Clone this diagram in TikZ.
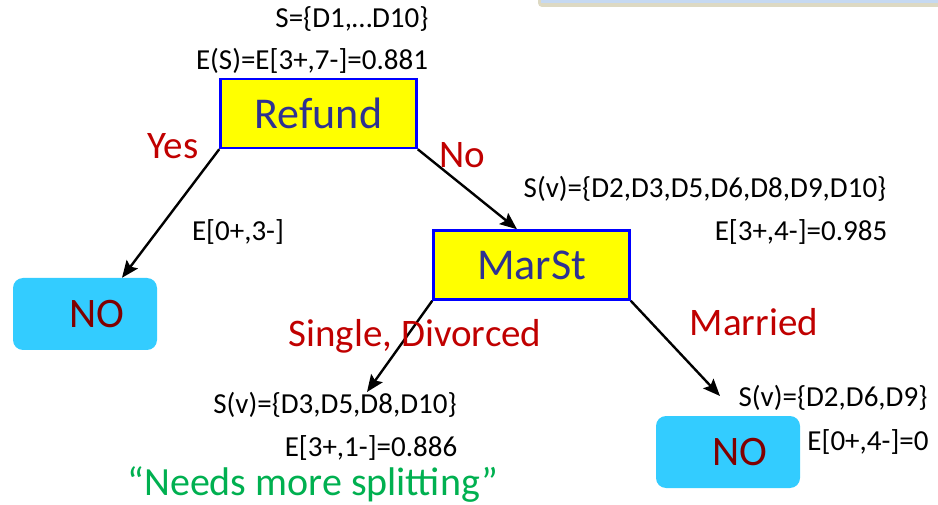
\documentclass[tikz,border=0pt]{standalone}
\usepackage{fontspec}
\setmainfont{Carlito}
\usepackage{tikz}
\usetikzlibrary{arrows.meta}
\pgfdeclarelayer{bg}
\pgfsetlayers{bg,main}

\definecolor{testfill}{HTML}{FFFF00}
\definecolor{testedge}{HTML}{0000FF}
\definecolor{testtext}{HTML}{2E3192}
\definecolor{leaffill}{HTML}{33CCFF}
\definecolor{leaftext}{HTML}{800000}
\definecolor{branchred}{HTML}{C00000}
\definecolor{notegreen}{HTML}{00B050}
\definecolor{barbeige}{HTML}{DDD9C3}
\definecolor{barblue}{HTML}{C6D9F1}

\begin{document}
\begin{tikzpicture}[x=1pt, y=-1pt,
        test/.style={draw=testedge, line width=2.5pt, fill=testfill, text=testtext,
                minimum width=196pt, minimum height=69pt, font=\fontsize{44}{50}\selectfont},
        leaf/.style={fill=leaffill, rounded corners=10pt, text=leaftext,
                minimum width=144pt, minimum height=72pt, font=\fontsize{42}{48}\selectfont},
        info/.style={inner sep=0pt, font=\fontsize{29}{33}\selectfont},
        branch/.style={inner sep=0pt, text=branchred, font=\fontsize{39}{45}\selectfont},
        split/.style={line width=2.4pt, -{Stealth[length=17pt,width=14pt,inset=3pt]}}]
        \useasboundingbox (0,0) rectangle (938,505);
        % title bar cut off at the top
        \fill [barbeige, rounded corners=4pt] (538,-20) rectangle (960,7);
        \fill [barblue] (541,-20) rectangle (960,3.5);

        \node (refund) [test] at (318.5,113.5) {Refund};
        \node (marst) [test] at (531.5,265) {MarSt};
        \node (noL) [leaf] at (85,314) {\hspace{24pt}NO};
        \node (noR) [leaf] at (728,452) {\hspace{24pt}NO};

        \node (sAll) [info] at (352,19) {S=\{D1,…D10\}};
        \node (eAll) [info] at (312,61) {E(S)=E[3+,7-]=0.881};
        \node (eYes) [info] at (238,232) {E[0+,3-]};
        \node (sNo) [info] at (705,189) {S(v)=\{D2,D3,D5,D6,D8,D9,D10\}};
        \node (eNo) [info] at (801,232) {E[3+,4-]=0.985};
        \node (sSingle) [info] at (335,405) {S(v)=\{D3,D5,D8,D10\}};
        \node (eSingle) [info] at (371,448) {E[3+,1-]=0.886};
        \node (sMarried) [info] at (833,398) {S(v)=\{D2,D6,D9\}};
        \node (eMarried) [info] at (868,442) {E[0+,4-]=0};

        \node (yes) [branch] at (173,146) {Yes};
        \node (no) [branch] at (462,155) {No};
        \node (single) [branch] at (415,336) {Single, Divorced};
        \node (married) [branch] at (754,322) {Married};
        \node (needs) [branch, text=notegreen, font=\fontsize{40}{46}\selectfont] at (313,485) {“Needs more splitting”};

        \coordinate (tipSingle) at (367,392);
        \coordinate (tipMarried) at (720,396);
        \begin{pgfonlayer}{bg}
                \draw [split] (refund.south west) -- ([xshift=37pt]noL.north);
                \draw [split] (refund.south east) -- ([xshift=-14.5pt]marst.north);
                \draw [split] (marst.south west) -- (tipSingle);
                \draw [split] (marst.south east) -- (tipMarried);
        \end{pgfonlayer}
\end{tikzpicture}
\end{document}
